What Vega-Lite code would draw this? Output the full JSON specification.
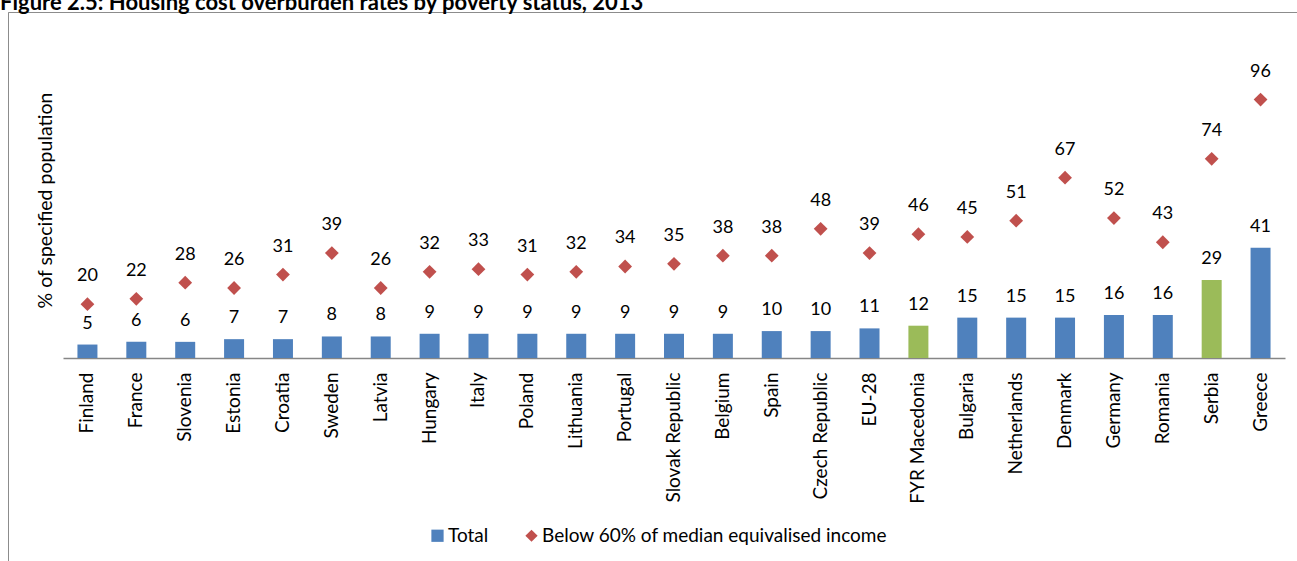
{
  "$schema": "https://vega.github.io/schema/vega-lite/v6.json",
  "width": 1289,
  "height": 549,
  "autosize": {"type": "none"},
  "padding": {"left": 8, "top": 12, "right": 0, "bottom": 0},
  "background": "white",
  "title": {
    "text": "Figure 2.5: Housing cost overburden rates by poverty status, 2013",
    "anchor": "start",
    "frame": "group",
    "font": "Lato",
    "fontSize": 22,
    "fontWeight": "bold",
    "color": "black",
    "baseline": "alphabetic",
    "offset": -20,
    "dx": -8
  },
  "config": {
    "font": "Lato",
    "view": {"stroke": "#8c8c8c", "strokeWidth": 1, "strokeDash": [1289, 1838, 549]}
  },
  "data": {
    "values": [
      {"country": "Finland", "series": "Total", "value": 5, "status": "EU"},
      {"country": "France", "series": "Total", "value": 6, "status": "EU"},
      {"country": "Slovenia", "series": "Total", "value": 6, "status": "EU"},
      {"country": "Estonia", "series": "Total", "value": 7, "status": "EU"},
      {"country": "Croatia", "series": "Total", "value": 7, "status": "EU"},
      {"country": "Sweden", "series": "Total", "value": 8, "status": "EU"},
      {"country": "Latvia", "series": "Total", "value": 8, "status": "EU"},
      {"country": "Hungary", "series": "Total", "value": 9, "status": "EU"},
      {"country": "Italy", "series": "Total", "value": 9, "status": "EU"},
      {"country": "Poland", "series": "Total", "value": 9, "status": "EU"},
      {"country": "Lithuania", "series": "Total", "value": 9, "status": "EU"},
      {"country": "Portugal", "series": "Total", "value": 9, "status": "EU"},
      {"country": "Slovak Republic", "series": "Total", "value": 9, "status": "EU"},
      {"country": "Belgium", "series": "Total", "value": 9, "status": "EU"},
      {"country": "Spain", "series": "Total", "value": 10, "status": "EU"},
      {"country": "Czech Republic", "series": "Total", "value": 10, "status": "EU"},
      {"country": "EU-28", "series": "Total", "value": 11, "status": "EU"},
      {"country": "FYR Macedonia", "series": "Total", "value": 12, "status": "Candidate"},
      {"country": "Bulgaria", "series": "Total", "value": 15, "status": "EU"},
      {"country": "Netherlands", "series": "Total", "value": 15, "status": "EU"},
      {"country": "Denmark", "series": "Total", "value": 15, "status": "EU"},
      {"country": "Germany", "series": "Total", "value": 16, "status": "EU"},
      {"country": "Romania", "series": "Total", "value": 16, "status": "EU"},
      {"country": "Serbia", "series": "Total", "value": 29, "status": "Candidate"},
      {"country": "Greece", "series": "Total", "value": 41, "status": "EU"},
      {"country": "Finland", "series": "Below 60% of median equivalised income", "value": 20, "status": "EU"},
      {"country": "France", "series": "Below 60% of median equivalised income", "value": 22, "status": "EU"},
      {"country": "Slovenia", "series": "Below 60% of median equivalised income", "value": 28, "status": "EU"},
      {"country": "Estonia", "series": "Below 60% of median equivalised income", "value": 26, "status": "EU"},
      {"country": "Croatia", "series": "Below 60% of median equivalised income", "value": 31, "status": "EU"},
      {"country": "Sweden", "series": "Below 60% of median equivalised income", "value": 39, "status": "EU"},
      {"country": "Latvia", "series": "Below 60% of median equivalised income", "value": 26, "status": "EU"},
      {"country": "Hungary", "series": "Below 60% of median equivalised income", "value": 32, "status": "EU"},
      {"country": "Italy", "series": "Below 60% of median equivalised income", "value": 33, "status": "EU"},
      {"country": "Poland", "series": "Below 60% of median equivalised income", "value": 31, "status": "EU"},
      {"country": "Lithuania", "series": "Below 60% of median equivalised income", "value": 32, "status": "EU"},
      {"country": "Portugal", "series": "Below 60% of median equivalised income", "value": 34, "status": "EU"},
      {"country": "Slovak Republic", "series": "Below 60% of median equivalised income", "value": 35, "status": "EU"},
      {"country": "Belgium", "series": "Below 60% of median equivalised income", "value": 38, "status": "EU"},
      {"country": "Spain", "series": "Below 60% of median equivalised income", "value": 38, "status": "EU"},
      {"country": "Czech Republic", "series": "Below 60% of median equivalised income", "value": 48, "status": "EU"},
      {"country": "EU-28", "series": "Below 60% of median equivalised income", "value": 39, "status": "EU"},
      {"country": "FYR Macedonia", "series": "Below 60% of median equivalised income", "value": 46, "status": "Candidate"},
      {"country": "Bulgaria", "series": "Below 60% of median equivalised income", "value": 45, "status": "EU"},
      {"country": "Netherlands", "series": "Below 60% of median equivalised income", "value": 51, "status": "EU"},
      {"country": "Denmark", "series": "Below 60% of median equivalised income", "value": 67, "status": "EU"},
      {"country": "Germany", "series": "Below 60% of median equivalised income", "value": 52, "status": "EU"},
      {"country": "Romania", "series": "Below 60% of median equivalised income", "value": 43, "status": "EU"},
      {"country": "Serbia", "series": "Below 60% of median equivalised income", "value": 74, "status": "Candidate"},
      {"country": "Greece", "series": "Below 60% of median equivalised income", "value": 96, "status": "EU"}
    ]
  },
  "encoding": {
    "x": {
      "field": "country",
      "type": "nominal",
      "sort": null,
      "scale": {"range": [55, 1277], "paddingInner": 0, "paddingOuter": 0},
      "axis": {
        "orient": "bottom",
        "offset": -203,
        "title": null,
        "domainColor": "#868686",
        "domainWidth": 1.5,
        "ticks": false,
        "labelAngle": -90,
        "labelAlign": "right",
        "labelBaseline": "middle",
        "labelPadding": 14,
        "labelFontSize": 19,
        "labelColor": "black",
        "labelLimit": 0
      }
    },
    "y": {
      "field": "value",
      "type": "quantitative",
      "scale": {"domain": [0, 120], "range": [346, 23], "nice": false, "zero": true},
      "axis": {
        "orient": "left",
        "offset": -55,
        "domain": false,
        "ticks": false,
        "labels": false,
        "grid": false,
        "title": "% of specified population",
        "titleFontSize": 19.5,
        "titleFontWeight": "normal",
        "titleColor": "black",
        "titlePadding": 8,
        "titleY": 188
      }
    }
  },
  "layer": [
    {
      "transform": [{"filter": "datum.series === 'Total'"}],
      "mark": {"type": "bar", "width": 20},
      "encoding": {
        "color": {
          "condition": {"test": "datum.status === 'Candidate'", "value": "#9BBB59"},
          "field": "series",
          "type": "nominal",
          "scale": {"domain": ["Total", "Below 60% of median equivalised income"], "range": ["#4F81BD", "#C0504D"]},
          "legend": {
            "orient": "none",
            "legendX": 420,
            "legendY": 514,
            "direction": "horizontal",
            "title": null,
            "labelFontSize": 19,
            "labelColor": "black",
            "labelLimit": 0,
            "symbolSize": 150,
            "columnPadding": 33,
            "labelOffset": 1
          }
        }
      }
    },
    {
      "transform": [{"filter": "datum.series !== 'Total'"}],
      "mark": {"type": "point", "filled": true, "size": 190, "opacity": 1},
      "encoding": {
        "color": {"field": "series", "type": "nominal"},
        "shape": {
          "field": "series",
          "type": "nominal",
          "scale": {"domain": ["Total", "Below 60% of median equivalised income"], "range": ["square", "diamond"]}
        }
      }
    },
    {
      "transform": [{"filter": "datum.series === 'Total'"}],
      "mark": {"type": "text", "dy": -21, "fontSize": 18, "color": "black", "baseline": "middle"},
      "encoding": {"text": {"field": "value", "type": "quantitative"}}
    },
    {
      "transform": [{"filter": "datum.series !== 'Total'"}],
      "mark": {"type": "text", "dy": -28, "fontSize": 18, "color": "black", "baseline": "middle"},
      "encoding": {"text": {"field": "value", "type": "quantitative"}}
    }
  ]
}
